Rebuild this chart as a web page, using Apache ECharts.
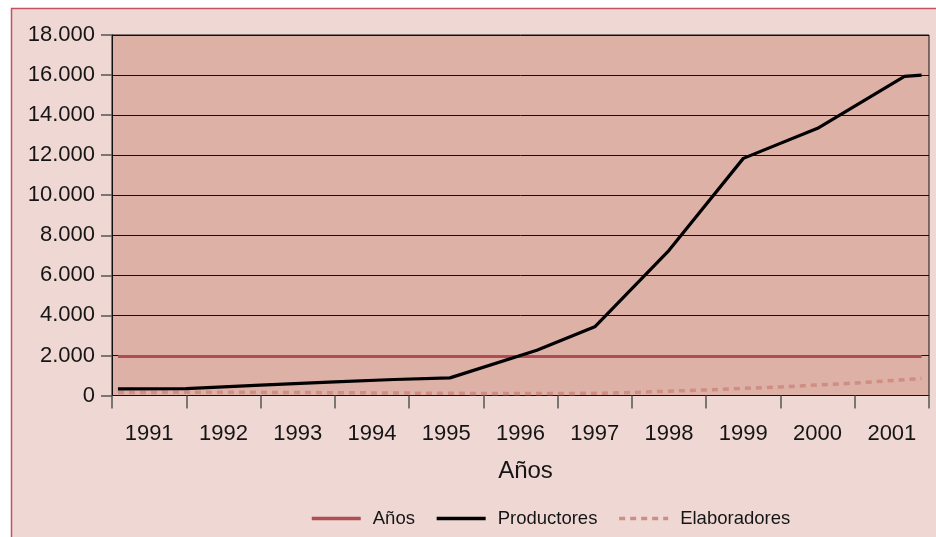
<!DOCTYPE html>
<html>
<head>
<meta charset="utf-8">
<script src="https://cdn.jsdelivr.net/npm/echarts@6/dist/echarts.min.js"></script>
<style>
  html, body { margin: 0; padding: 0; background: #ffffff; }
  #chart { width: 936px; height: 537px; }
</style>
</head>
<body>
<div id="chart"></div>
<script>
// Year labels on the category axis
const years = ['1991', '1992', '1993', '1994', '1995', '1996', '1997', '1998', '1999', '2000', '2001'];

// Horizontal reference series "Años" (decimal year, value)
const aniosT = [1990.58, 2001.4];
const aniosV = [1950, 1950];

// Productores (decimal year, value)
const productoresT = [1990.58, 1991.5, 1992.5, 1993.5, 1994.3, 1995.05, 1996.22, 1997.0, 1998.0, 1999.0, 2000.0, 2001.17, 2001.4];
const productoresV = [330, 340, 520, 680, 800, 880, 2260, 3430, 7250, 11840, 13340, 15930, 16000];

// Elaboradores (decimal year, value)
const elaboradoresT = [1990.58, 1992.0, 1993.5, 1995.0, 1996.0, 1997.0, 1997.5, 1998.5, 1999.5, 2000.5, 2001.4];
const elaboradoresV = [150, 165, 140, 110, 95, 110, 150, 280, 430, 620, 850];

// Y axis ticks
const yMin = 0, yMax = 18000, yStep = 2000;

const zip = (t, v) => t.map((x, i) => [x, v[i]]);
const fmtThousands = v => String(Math.round(v)).replace(/\B(?=(\d{3})+(?!\d))/g, '.');

const font = '"Liberation Sans", Arial, sans-serif';

const chart = echarts.init(document.getElementById('chart'), null, { renderer: 'canvas' });

chart.setOption({
  backgroundColor: '#ffffff',
  animation: false,
  graphic: [{
    type: 'rect',
    z: -10,
    silent: true,
    shape: { x: 11.5, y: 8.5, width: 1000, height: 1000 },
    style: { fill: '#efd8d3', stroke: '#c4525c', lineWidth: 1.5 }
  }],
  grid: {
    left: 112, top: 35, right: 7, bottom: 141.5,
    show: true,
    backgroundColor: '#deb1a7',
    borderColor: '#111111',
    borderWidth: 1
  },
  legend: {
    left: 305,
    top: 504,
    itemWidth: 49,
    itemHeight: 14,
    itemGap: 20,
    data: ['Años', 'Productores', 'Elaboradores'],
    itemStyle: { opacity: 0 },
    lineStyle: { width: 3.5 },
    textStyle: { fontFamily: font, fontSize: 18.5, color: '#151515', padding: [0, 0, 0, 7] }
  },
  xAxis: [{
    type: 'category',
    data: years,
    boundaryGap: true,
    axisLine: { lineStyle: { color: '#111111', width: 1 } },
    axisTick: { show: true, length: 13, lineStyle: { color: '#555555', width: 1.5 } },
    axisLabel: { fontFamily: font, fontSize: 22, color: '#151515', margin: 27 },
    splitLine: { show: false },
    name: 'Años',
    nameLocation: 'middle',
    nameGap: 64,
    nameTextStyle: { fontFamily: font, fontSize: 24, color: '#151515', padding: [0, 0, 0, 10] }
  }, {
    type: 'value',
    min: 1990.5,
    max: 2001.5,
    show: false
  }],
  yAxis: {
    type: 'value',
    min: yMin,
    max: yMax,
    interval: yStep,
    axisLine: { show: true, lineStyle: { color: '#111111' } },
    axisTick: { show: true, length: 11, lineStyle: { color: '#555555', width: 1.5 } },
    axisLabel: { fontFamily: font, fontSize: 22, color: '#151515', margin: 17, formatter: fmtThousands },
    splitLine: { show: true, lineStyle: { color: '#111111', width: 1 } }
  },
  series: [{
    name: 'Años',
    type: 'line',
    xAxisIndex: 1,
    data: zip(aniosT, aniosV),
    symbol: 'none',
    color: '#ad454e',
    lineStyle: { color: '#b04c54', width: 3 },
    z: 3
  }, {
    name: 'Productores',
    type: 'line',
    xAxisIndex: 1,
    data: zip(productoresT, productoresV),
    symbol: 'none',
    color: '#000000',
    lineStyle: { color: '#000000', width: 3.2 },
    z: 4
  }, {
    name: 'Elaboradores',
    type: 'line',
    xAxisIndex: 1,
    data: zip(elaboradoresT, elaboradoresV),
    symbol: 'none',
    color: '#cf8d84',
    lineStyle: { color: '#cf8d84', width: 3.5, type: [6, 5] },
    z: 2
  }]
});
</script>
</body>
</html>
